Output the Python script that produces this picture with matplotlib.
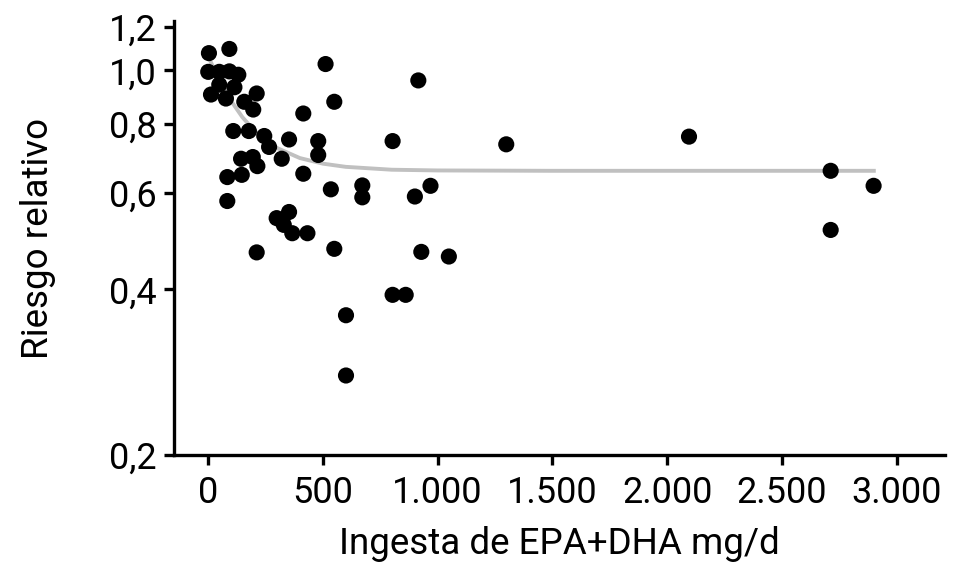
import numpy as np
import matplotlib.pyplot as plt

plt.rcParams['font.family'] = ['Roboto', 'DejaVu Sans']

# Data (EPA+DHA intake mg/d vs relative risk)
intake = [4, 93, 1, 49, 93, 132, 49, 115, 13, 78, 158, 212, 197, 415, 512, 550,
          110, 178, 245, 266, 353, 321, 480, 480, 144, 195, 215, 84, 147, 415,
          84, 535, 672, 672, 901, 353, 299, 330, 367, 433, 212, 550, 929,
          916, 804, 1299, 969, 1049, 804, 861, 601, 601, 2095, 2712, 2899, 2712]
risk = [1.075, 1.094, 0.994, 0.994, 0.996, 0.982, 0.942, 0.932, 0.904, 0.889,
        0.877, 0.908, 0.849, 0.835, 1.027, 0.877, 0.776, 0.776, 0.760, 0.726,
        0.749, 0.691, 0.744, 0.702, 0.691, 0.696, 0.670, 0.640, 0.646, 0.649,
        0.579, 0.608, 0.618, 0.588, 0.590, 0.553, 0.539, 0.524, 0.506, 0.506,
        0.467, 0.474, 0.468, 0.959, 0.744, 0.734, 0.617, 0.459, 0.391, 0.391,
        0.359, 0.279, 0.758, 0.657, 0.617, 0.513]

# fitted trend line
curve_x = [10, 50, 100, 150, 200, 250, 300, 400, 500, 600, 800, 1000, 1500, 2000, 2500, 2900]
curve_y = [1.04, 0.960, 0.881, 0.822, 0.779, 0.747, 0.723, 0.693, 0.677, 0.668,
           0.660, 0.658, 0.657, 0.657, 0.657, 0.657]

x_ticks = [0, 500, 1000, 1500, 2000, 2500, 3000]
x_labels = ["0", "500", "1.000", "1.500", "2.000", "2.500", "3.000"]
y_ticks = [0.2, 0.4, 0.6, 0.8, 1.0, 1.2]
y_labels = ["0,2", "0,4", "0,6", "0,8", "1,0", "1,2"]

fig = plt.figure(figsize=(9.69, 5.66), dpi=100)
ax = fig.add_axes([0.1796, 0.196, 0.7954, 0.767])

ax.plot(curve_x, curve_y, color="#c0c0c0", linewidth=2.8, zorder=1)
ax.scatter(intake, risk, s=135, color="black", edgecolors="none", zorder=2)

ax.set_yscale("log")
ax.set_ylim(0.2, 1.23)
ax.set_xlim(-148, 3209)

ax.set_xticks(x_ticks)
ax.set_xticklabels(x_labels)
ax.set_yticks(y_ticks)
ax.set_yticklabels(y_labels)
ax.yaxis.set_minor_locator(plt.NullLocator())

for side in ["top", "right"]:
    ax.spines[side].set_visible(False)
for side in ["left", "bottom"]:
    ax.spines[side].set_linewidth(2.4)

ax.tick_params(axis="both", which="major", length=7.5, width=2.4, labelsize=26, color="black")
ax.tick_params(axis="x", pad=7)
ax.tick_params(axis="y", pad=5)

ax.set_xlabel("Ingesta de EPA+DHA mg/d", fontsize=26.5, labelpad=11)
ax.set_ylabel("Riesgo relativo", fontsize=26.5, labelpad=38)

plt.savefig("out.png", dpi=100)
